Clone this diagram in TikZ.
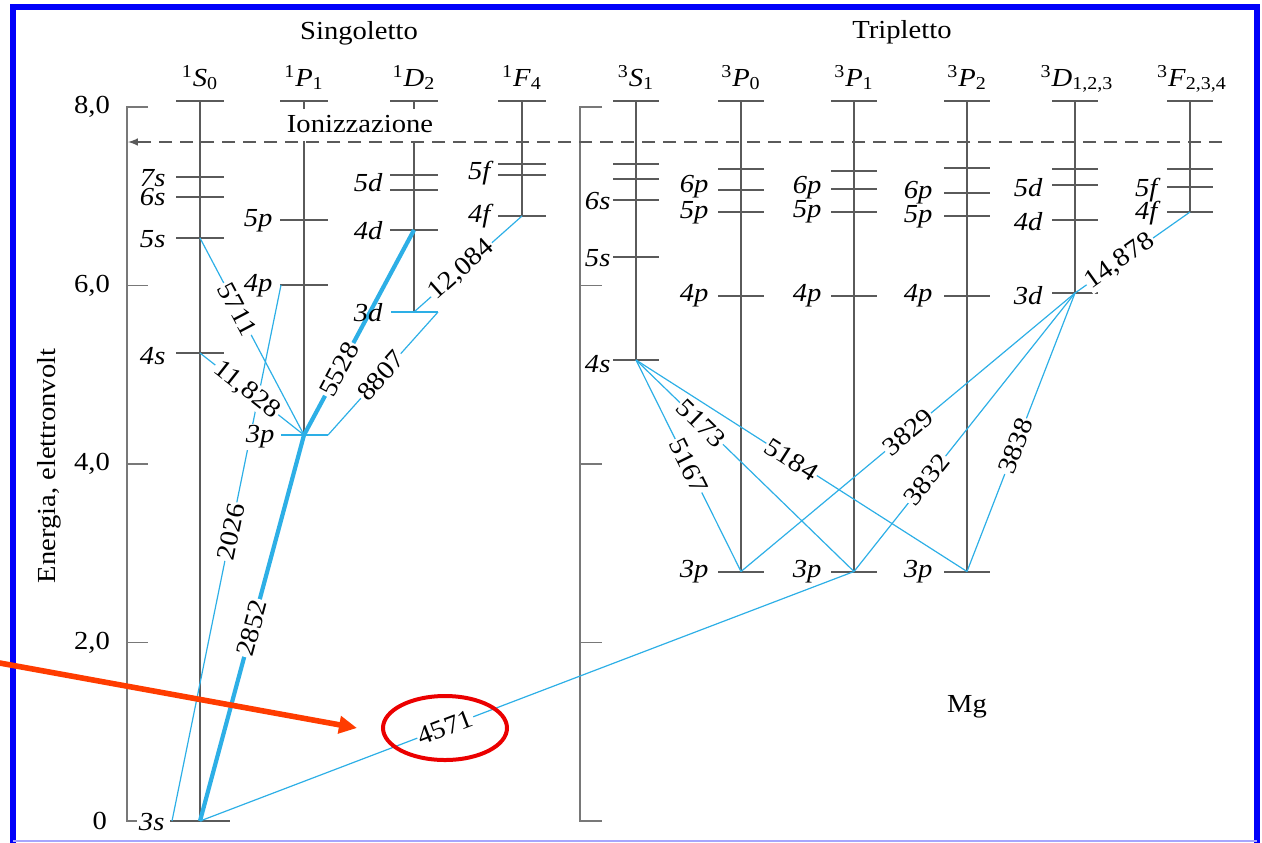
\documentclass[tikz,border=0pt]{standalone}
\usepackage{fontspec}
\setmainfont{Liberation Serif}[FakeStretch=1.1]
\usetikzlibrary{arrows.meta}

\definecolor{levgray}{RGB}{90,90,90}
\definecolor{axgray}{RGB}{120,120,120}
\definecolor{lineblue}{RGB}{45,175,230}
\definecolor{frameblue}{RGB}{0,0,250}
\definecolor{markred}{RGB}{255,60,0}
\definecolor{ringred}{RGB}{235,0,0}

\begin{document}
\begin{tikzpicture}[x=0.5pt,y=-0.5pt,
    lvl/.style={levgray, line width=1pt},
    stem/.style={levgray, line width=0.7pt},
    axline/.style={axgray, line width=0.9pt},
    trans/.style={lineblue, line width=0.6pt},
    strong/.style={lineblue, line width=2.1pt},
    wl/.style={fill=white, text=black, inner sep=0.6pt, sloped, font=\fontsize{13}{13}\selectfont},
    lab/.style={anchor=east, inner sep=0.6pt, font=\fontsize{13}{13}\selectfont\itshape},
    term/.style={anchor=base, font=\fontsize{13}{13}\selectfont},
    num/.style={anchor=east, font=\fontsize{13}{13}\selectfont}]
  \useasboundingbox (0,0) rectangle (1262,842);

  % energy axes
  \draw[axline] (148,107) -- (127,107) -- (127,821) -- (137,821);
  \draw[axline] (602,107) -- (580,107) -- (580,821) -- (602,821);
  \foreach \y in {285.5,464,642.5} {
    \draw[axline] (127,\y) -- (148,\y);
    \draw[axline] (580,\y) -- (602,\y);
  }
  \node[num] (e8) at (117,107) {8,0};
  \node[num] (e6) at (117,285.5) {6,0};
  \node[num] (e4) at (117,464) {4,0};
  \node[num] (e2) at (117,642.5) {2,0};
  \node[num] (e0) at (114,821) {0};
  \node[rotate=90, font=\fontsize{13}{13}\selectfont] (ylab) at (49,466) {Energia, elettronvolt};

  % singoletto levels
  \draw[stem] (200,101) -- (200,821);
  \draw[stem] (304,101) -- (304,435);
  \draw[stem] (414,101) -- (414,312);
  \draw[stem] (522,101) -- (522,216);
  \foreach \x/\y in {200/101,200/177,200/197,200/238,200/353,
                     304/101,304/220,304/285,
                     414/101,414/175,414/190,414/230,
                     522/101,522/164,522/175,522/216}
    \draw[lvl] (\x,\y) +(-24,0) -- +(24,0);
  \draw[lvl] (170,821) -- (230,821);
  \draw[lvl, lineblue] (281,435) -- (328,435);
  \draw[lvl, lineblue] (391,312) -- (438,312);

  % tripletto levels
  \draw[stem] (636,101) -- (636,360);
  \foreach \x in {741,854,967}
    \draw[stem] (\x,101) -- (\x,571.5);
  \draw[stem] (1075,101) -- (1075,293);
  \draw[stem] (1190,101) -- (1190,212);
  \foreach \x/\y in {636/101,636/164,636/179,636/200,636/257,636/360,
                     741/101,741/169,741/190,741/212,741/296,741/571.5,
                     854/101,854/171,854/189,854/212,854/296,854/571.5,
                     967/101,967/168,967/193,967/216,967/296,967/571.5,
                     1075/101,1075/169,1075/185,1075/220,1075/293,
                     1190/101,1190/169,1190/187,1190/212}
    \draw[lvl] (\x,\y) +(-23,0) -- +(23,0);

  % ionization limit
  \node[fill=white, inner xsep=1pt, minimum height=16pt, font=\fontsize{13}{13}\selectfont] (ion) at (360,124.5) {Ionizzazione};
  \coordinate (ionR) at (1222,142);
  \coordinate (ionL) at (128,142);
  \draw[levgray, line width=0.7pt, dash pattern=on 6.5pt off 4pt, -latex] (ionR) -- (ionL);

  % end points of the transitions
  \coordinate (s3s) at (200,821);
  \coordinate (s3sl) at (172,821);
  \coordinate (s4s) at (200,353);
  \coordinate (s5s) at (200,238);
  \coordinate (p3p) at (304,435);
  \coordinate (p3pr) at (328,435);
  \coordinate (p4pl) at (281,285);
  \coordinate (d3d) at (414,312);
  \coordinate (d3dr) at (438,312);
  \coordinate (d4d) at (414,230);
  \coordinate (f4f) at (522,216);
  \coordinate (t4s) at (636,360);
  \coordinate (t3p0) at (741,571.5);
  \coordinate (t3p1) at (854,571.5);
  \coordinate (t3p2) at (967,571.5);
  \coordinate (t3d) at (1075,293);
  \coordinate (t4f) at (1190,212);

  % transitions
  \draw[trans] (s3sl) -- node[wl, pos=0.54] (w2026) {2026} (p4pl);
  \draw[strong] (s3s) -- node[wl, pos=0.5] (w2852) {2852} (p3p);
  \draw[strong] (p3p) -- node[wl, pos=0.32] (w5528) {5528} (d4d);
  \draw[trans] (s5s) -- node[wl, pos=0.36] (w5711) {5711} (p3p);
  \draw[trans] (s4s) -- node[wl, pos=0.45] (w11828) {11,828} (p3p);
  \draw[trans] (p3pr) -- node[wl, pos=0.48] (w8807) {8807} (d3dr);
  \draw[trans] (d3d) -- node[wl, pos=0.44] (w12084) {12,084} (f4f);
  \draw[trans] (s3s) -- node[wl, pos=0.375] (w4571) {4571} (t3p1);
  \draw[trans] (t4s) -- node[wl, pos=0.5] (w5167) {5167} (t3p0);
  \draw[trans] (t4s) -- node[wl, pos=0.3] (w5173) {5173} (t3p1);
  \draw[trans] (t4s) -- node[wl, pos=0.47] (w5184) {5184} (t3p2);
  \draw[trans] (t3p0) -- node[wl, pos=0.5] (w3829) {3829} (t3d);
  \draw[trans] (t3p1) -- node[wl, pos=0.33] (w3832) {3832} (t3d);
  \draw[trans] (t3p2) -- node[wl, pos=0.45] (w3838) {3838} (t3d);
  \draw[trans] (t3d) -- node[wl, pos=0.39] (w14878) {14,878} (t4f);

  % level names
  \node[lab] (a7s) at (167,178) {7s};
  \node[lab] (a6s) at (167,197) {6s};
  \node[lab] (a5s) at (167,239) {5s};
  \node[lab] (a4s) at (167,356) {4s};
  \node[lab] (a3s) at (166,822) {3s};
  \node[lab] (b5p) at (274,221) {5p};
  \node[lab] (b4p) at (274,286) {4p};
  \node[lab, fill=white] (b3p) at (276,437) {3p};
  \node[lab] (c5d) at (384,183) {5d};
  \node[lab] (c4d) at (384,231) {4d};
  \node[lab] (c3d) at (384,313) {3d};
  \node[lab] (g5f) at (492,173) {5f};
  \node[lab] (g4f) at (492,216) {4f};
  \node[lab] (h6s) at (612,201) {6s};
  \node[lab] (h5s) at (612,258) {5s};
  \node[lab] (h4s) at (612,364) {4s};
  \node[lab] (k6p) at (710,187) {6p};
  \node[lab] (k5p) at (710,213) {5p};
  \node[lab] (k4p) at (710,296) {4p};
  \node[lab] (k3p) at (710,572) {3p};
  \node[lab] (m6p) at (823,188) {6p};
  \node[lab] (m5p) at (823,212) {5p};
  \node[lab] (m4p) at (823,296) {4p};
  \node[lab] (m3p) at (823,572) {3p};
  \node[lab] (n6p) at (934,193) {6p};
  \node[lab] (n5p) at (934,217) {5p};
  \node[lab] (n4p) at (934,296) {4p};
  \node[lab] (n3p) at (934,572) {3p};
  \node[lab] (q5d) at (1044,188) {5d};
  \node[lab] (q4d) at (1044,222) {4d};
  \node[lab] (q3d) at (1044,296) {3d};
  \node[lab] (r5f) at (1159,190) {5f};
  \node[lab] (r4f) at (1159,213) {4f};

  % terms
  \node[term] (sing) at (359,39) {Singoletto};
  \node[term] (trip) at (902,38) {Tripletto};
  \node[term] (tS0) at (200,86) {\textsuperscript{1}\textit{S}\textsubscript{0}};
  \node[term] (tP1) at (304,86) {\textsuperscript{1}\textit{P}\textsubscript{1}};
  \node[term] (tD2) at (414,86) {\textsuperscript{1}\textit{D}\textsubscript{2}};
  \node[term] (tF4) at (522,86) {\textsuperscript{1}\textit{F}\textsubscript{4}};
  \node[term] (uS1) at (636,86) {\textsuperscript{3}\textit{S}\textsubscript{1}};
  \node[term] (uP0) at (741,86) {\textsuperscript{3}\textit{P}\textsubscript{0}};
  \node[term] (uP1) at (854,86) {\textsuperscript{3}\textit{P}\textsubscript{1}};
  \node[term] (uP2) at (967,86) {\textsuperscript{3}\textit{P}\textsubscript{2}};
  \node[term] (uD) at (1077,86) {\textsuperscript{3}\textit{D}\textsubscript{1,2,3}};
  \node[term] (uF) at (1192,86) {\textsuperscript{3}\textit{F}\textsubscript{2,3,4}};
  \node[font=\fontsize{13}{13}\selectfont] (mg) at (967,707) {Mg};

  % frame and mark
  \draw[frameblue, line width=3pt] (13,845) -- (13,7) -- (1257,7) -- (1257,845);
  \draw[frameblue!35, line width=1pt] (13,840.5) -- (1257,840.5);
  \coordinate (ring) at (445,728);
  \draw[ringred, line width=2pt] (ring) ellipse (62 and 32);
  \coordinate (tail) at (-3,662.5);
  \coordinate (tip) at (357,728);
  \draw[markred, line width=2.8pt, -{Triangle[length=9pt,width=8.5pt]}] (tail) -- (tip);
\end{tikzpicture}
\end{document}
